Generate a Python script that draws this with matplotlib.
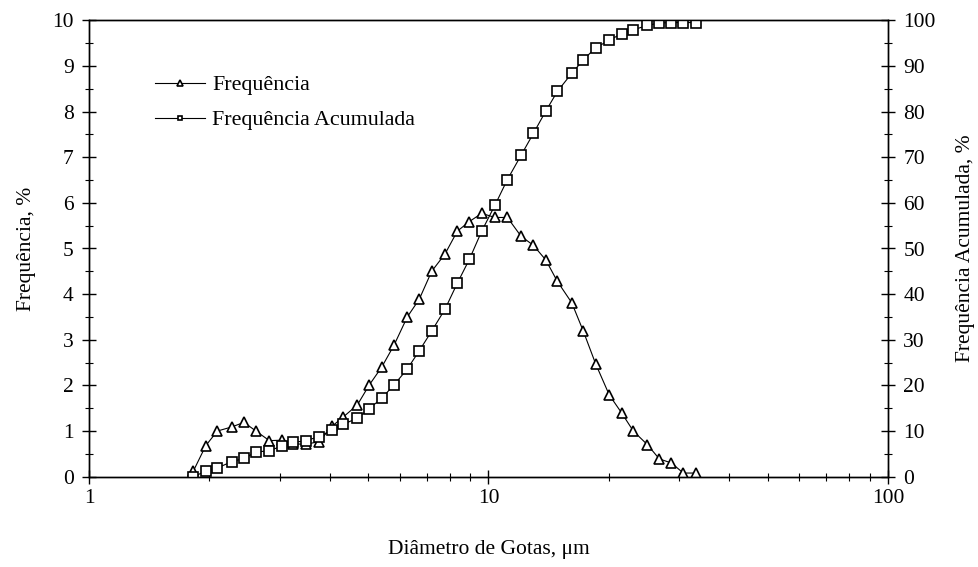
import matplotlib
matplotlib.use("Agg")
import matplotlib.pyplot as plt
from matplotlib.ticker import FixedLocator, NullFormatter, MultipleLocator

plt.rcParams["font.family"] = ["Liberation Serif", "DejaVu Serif"]

# droplet diameter, um
diametro = [1.824, 1.960, 2.095, 2.276, 2.443, 2.618, 2.828, 3.036, 3.246, 3.493,
            3.771, 4.052, 4.331, 4.694, 5.030, 5.403, 5.800, 6.262, 6.711, 7.207,
            7.783, 8.355, 8.953, 9.616, 10.38, 11.15, 12.06, 12.95, 13.91, 14.87,
            16.16, 17.27, 18.53, 20.06, 21.53, 23.04, 25.00, 26.76, 28.71, 30.73,
            33.01]

# frequency, %
frequencia = [0.12, 0.68, 1.00, 1.09, 1.19, 1.00, 0.79, 0.80, 0.72, 0.71,
              0.77, 1.10, 1.31, 1.57, 2.01, 2.40, 2.88, 3.50, 3.89, 4.50,
              4.88, 5.38, 5.59, 5.77, 5.68, 5.68, 5.27, 5.07, 4.75, 4.28,
              3.81, 3.19, 2.48, 1.79, 1.40, 1.00, 0.70, 0.39, 0.30, 0.08,
              0.08]

# cumulative frequency, %
acumulada = [0.0, 1.2, 1.9, 3.3, 4.0, 5.4, 5.7, 6.7, 7.5, 7.9,
             8.8, 10.2, 11.5, 12.8, 14.9, 17.2, 20.1, 23.6, 27.6, 31.9,
             36.7, 42.4, 47.6, 53.8, 59.5, 65.1, 70.4, 75.2, 80.1, 84.4,
             88.4, 91.3, 94.0, 95.6, 97.1, 97.9, 98.9, 99.4, 99.5, 99.5,
             99.5]

TICK_FS = 15.5
LABEL_FS = 15.5

fig = plt.figure(figsize=(9.79, 5.67), dpi=100)
ax = fig.add_axes([89 / 979, 1 - 476.7 / 567, (888 - 89) / 979, (476.7 - 20.3) / 567])
ax2 = ax.twinx()

l1, = ax.plot(diametro, frequencia, color="black", lw=0.8, marker="^",
              ms=7.5, mfc="white", mec="black", mew=1.2, label="Frequência")
l2, = ax2.plot(diametro, acumulada, color="black", lw=0.8, marker="s",
               ms=6.5, mfc="white", mec="black", mew=1.2,
               label="Frequência Acumulada")

ax.set_xscale("log")
ax.set_xlim(1, 100)
ax.set_ylim(0, 10)
ax2.set_ylim(0, 100)

ax.xaxis.set_major_locator(FixedLocator([1, 10, 100]))
ax.xaxis.set_major_formatter(plt.FuncFormatter(lambda v, p: f"{v:g}"))
ax.xaxis.set_minor_locator(FixedLocator([m * d for d in (1, 10) for m in range(2, 10)]))
ax.xaxis.set_minor_formatter(NullFormatter())

ax.yaxis.set_major_locator(MultipleLocator(1))
ax.yaxis.set_minor_locator(MultipleLocator(0.5))
ax2.yaxis.set_major_locator(MultipleLocator(10))
ax2.yaxis.set_minor_locator(MultipleLocator(5))

for a in (ax, ax2):
    a.tick_params(which="major", direction="inout", length=10, width=1,
                  labelsize=TICK_FS, pad=6)
    a.tick_params(which="minor", direction="inout", length=6, width=0.8)
    for s in a.spines.values():
        s.set_linewidth(1)
ax.tick_params(axis="x", which="major", pad=4)

ax.set_xlabel("Diâmetro de Gotas, μm", fontsize=LABEL_FS, labelpad=23)
ax.set_ylabel("Frequência, %", fontsize=LABEL_FS, labelpad=12)
ax2.set_ylabel("Frequência Acumulada, %", fontsize=LABEL_FS, labelpad=15)

fig.legend(handles=[l1, l2], loc="upper left",
           bbox_to_anchor=(155 / 979, 1 - 75 / 567),
           bbox_transform=fig.transFigure, frameon=False, fontsize=15.8,
           handlelength=2.3, handletextpad=0.3, labelspacing=0.66,
           borderpad=0, borderaxespad=0, markerscale=0.55)

fig.savefig("out.png", dpi=100)
